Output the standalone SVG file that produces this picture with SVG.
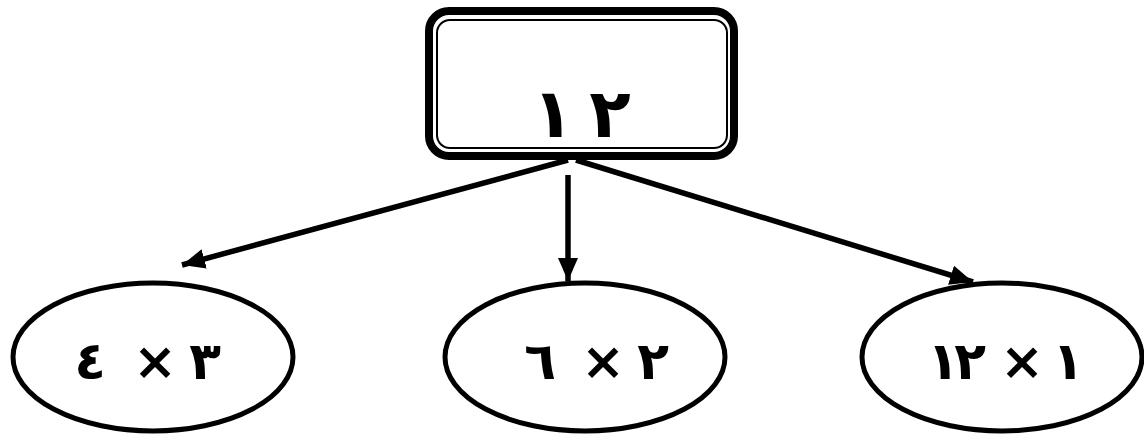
<svg xmlns="http://www.w3.org/2000/svg" width="1144" height="436" viewBox="0 0 1144 436">
<style>
.lbl{font-family:"DejaVu Sans",sans-serif;font-weight:bold;fill:#000;text-anchor:middle;direction:ltr;unicode-bidi:bidi-override}
.ell{fill:#fff;stroke:#000;stroke-width:5}
.conn{stroke:#000;stroke-width:5.5;fill:none}
</style>
<defs>
<marker id="ah" markerUnits="userSpaceOnUse" markerWidth="26" markerHeight="22" refX="23" refY="10" orient="auto">
<path d="M0,0 L23,10 L0,20 Z" fill="#000"/>
</marker>
</defs>
<rect width="1144" height="436" fill="#fff"/>
<g id="connectors">
<line class="conn" x1="568" y1="160" x2="182" y2="265" marker-end="url(#ah)"/>
<line class="conn" x1="568" y1="175" x2="568" y2="281" marker-end="url(#ah)"/>
<line class="conn" x1="576" y1="160" x2="973" y2="282" marker-end="url(#ah)"/>
</g>
<g id="root">
<rect x="429" y="11" width="305" height="145" rx="20" fill="#fff" stroke="#000" stroke-width="8"/>
<rect x="437" y="20" width="290" height="128" rx="13" fill="none" stroke="#000" stroke-width="2"/>
<text class="lbl" font-size="68" x="553 581 610" y="137">١ ٢</text>
</g>
<g id="node-left">
<ellipse class="ell" cx="153" cy="357" rx="140" ry="74"/>
<text class="lbl" font-size="52" x="90 122 155 180 205" y="379">٤ × ٣</text>
</g>
<g id="node-mid">
<ellipse class="ell" cx="585" cy="357" rx="140" ry="74"/>
<text class="lbl" font-size="52" x="540 571 603 628 653" y="379">٦ × ٢</text>
</g>
<g id="node-right">
<ellipse class="ell" cx="1002" cy="357" rx="140" ry="74"/>
<text class="lbl" font-size="52" x="943 970 996 1022 1045 1068" y="379">١٢ × ١</text>
</g>
</svg>
